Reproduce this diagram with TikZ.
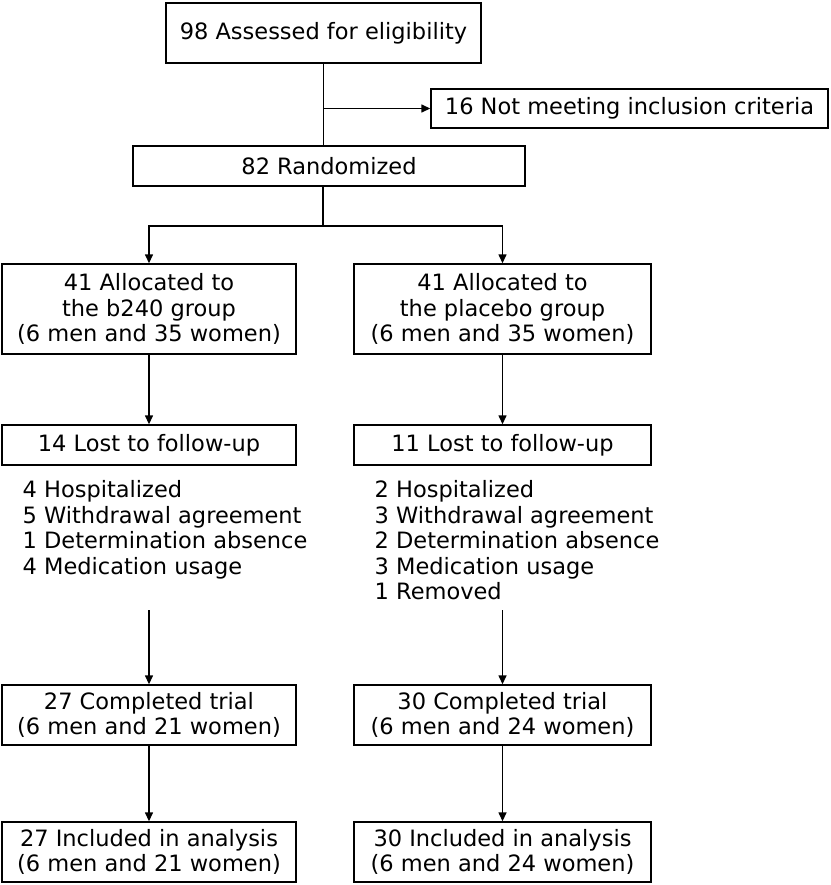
\documentclass[tikz,border=0pt]{standalone}
\usepackage{fontspec}
\setmainfont{DejaVu Sans}
\usetikzlibrary{positioning,arrows.meta}
\begin{document}
\begin{tikzpicture}[x=1pt,y=-1pt,>={Triangle[length=9pt,width=8pt]}, line width=1.4pt, font=\fontsize{22.5}{25.5}\selectfont]
	\tikzset{box/.style={draw, align=center, inner sep=0pt, minimum height=40pt}}
	\useasboundingbox (0,0) rectangle (830,885);
	% top part
	\node[box, minimum width=315pt, minimum height=60pt] (assess) at (323.5,33) {98 Assessed for eligibility};
	\node[box, minimum width=397pt, minimum height=39pt] (excl) at (629.5,108.5) {16 Not meeting inclusion criteria};
	\node[box, minimum width=392pt] (rand) at (329,166) {82 Randomized};
	\draw (assess.south) -- (assess.south |- rand.north);
	\draw[->] (assess.south |- excl.west) -- (excl.west);
	% two arms
	\node[box, minimum width=294pt, minimum height=90pt] (allocL) at (149,309) {41 Allocated to\\the b240 group\\(6 men and 35 women)};
	\node[box, minimum width=297pt, minimum height=90pt] (allocR) at (502.5,309) {41 Allocated to\\the placebo group\\(6 men and 35 women)};
	\coordinate (split) at (323,226);
	\draw (split |- rand.south) -- (split);
	\draw[->] (split) -| (allocL.north);
	\draw[->] (split) -| (allocR.north);
	\node[box, minimum width=294pt] (lostL) at (149,445) {14 Lost to follow-up};
	\node[box, minimum width=297pt] (lostR) at (502.5,445) {11 Lost to follow-up};
	\draw[->] (allocL) -- (lostL);
	\draw[->] (allocR) -- (lostR);
	\node[anchor=north west, align=left, inner sep=0pt] (whyL) at (22,480) {4 Hospitalized\\5 Withdrawal agreement\\1 Determination absence\\4 Medication usage};
	\node[anchor=north west, align=left, inner sep=0pt] (whyR) at (374,480) {2 Hospitalized\\3 Withdrawal agreement\\2 Determination absence\\3 Medication usage\\1 Removed};
	\node[box, minimum width=294pt, minimum height=60pt] (doneL) at (149,715) {27 Completed trial\\(6 men and 21 women)};
	\node[box, minimum width=297pt, minimum height=60pt] (doneR) at (502.5,715) {30 Completed trial\\(6 men and 24 women)};
	\coordinate (startL) at (149,610);
	\coordinate (startR) at (502.5,610);
	\draw[->] (startL) -- (doneL);
	\draw[->] (startR) -- (doneR);
	\node[box, minimum width=294pt, minimum height=60pt] (anaL) at (149,852) {27 Included in analysis\\(6 men and 21 women)};
	\node[box, minimum width=297pt, minimum height=60pt] (anaR) at (502.5,852) {30 Included in analysis\\(6 men and 24 women)};
	\draw[->] (doneL) -- (anaL);
	\draw[->] (doneR) -- (anaR);
\end{tikzpicture}
\end{document}
